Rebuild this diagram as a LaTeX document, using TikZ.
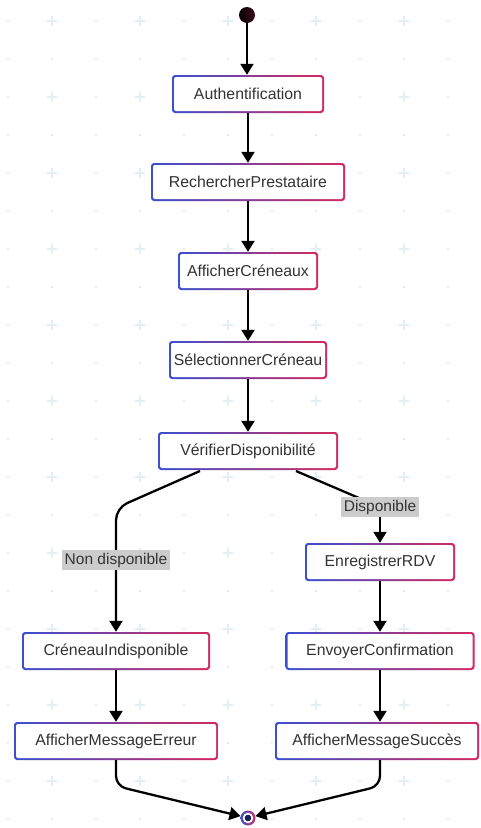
\documentclass[tikz,border=0pt]{standalone}
\usepackage{fontspec}
\setmainfont{Liberation Sans}
\usetikzlibrary{arrows.meta,calc}
\definecolor{txt}{HTML}{333333}
\definecolor{bblue}{HTML}{3B4FD0}
\definecolor{bpink}{HTML}{D42A5E}
\definecolor{lblgray}{HTML}{CCCCCC}
\definecolor{gridplus}{HTML}{E2F0F1}
\definecolor{griddot}{HTML}{E6E6E6}
\tikzset{
  actbox/.style={rounded corners=3pt, left color=bblue, right color=bpink,
    minimum height=38pt, inner sep=0pt, text=txt,
    font=\fontsize{15.8}{18}\selectfont,
    path picture={\fill[white, rounded corners=2pt]
      ([shift={(2pt,2pt)}]path picture bounding box.south west) rectangle
      ([shift={(-2pt,-2pt)}]path picture bounding box.north east);}},
  flow/.style={line width=2.3pt, black, -{Triangle[length=11pt,width=13pt]}},
  flowline/.style={line width=2.3pt, black},
  guard/.style={fill=lblgray, text=txt, inner sep=2.5pt, font=\fontsize{15.5}{17}\selectfont}
}
\begin{document}
\begin{tikzpicture}[x=1pt,y=-1pt]
\useasboundingbox (0,0) rectangle (480,828);
\fill[white] (0,0) rectangle (480,828);
% faint background grid
\foreach \i in {0,...,10}{
  \foreach \j in {0,...,21}{
    \pgfmathsetmacro{\xx}{8+44*\i}
    \pgfmathsetmacro{\yy}{21+38*\j}
    \pgfmathtruncatemacro{\pl}{(mod(\i,2)==1)&&(mod(\j,2)==0)}
    \ifnum\pl=1
      \draw[gridplus, line width=1.2pt] (\xx-5,\yy) -- (\xx+5,\yy) (\xx,\yy-5) -- (\xx,\yy+5);
    \else
      \fill[griddot] (\xx,\yy) circle (1.2);
    \fi
  }
}
% nodes
\node[circle, minimum size=16pt, inner sep=0pt, left color=black, right color=black!70!bpink] (start) at (247,15) {};
\node[actbox, minimum width=152pt] (auth) at (248,94) {Authentification};
\node[actbox, minimum width=194pt] (rech) at (248,182) {RechercherPrestataire};
\node[actbox, minimum width=140pt] (aff) at (248,271) {AfficherCréneaux};
\node[actbox, minimum width=158pt] (sel) at (248,360) {SélectionnerCréneau};
\node[actbox, minimum width=180pt] (ver) at (248,451) {VérifierDisponibilité};
\node[actbox, minimum width=150pt] (enr) at (380,562) {EnregistrerRDV};
\node[actbox, minimum width=188pt] (cre) at (116,651) {CréneauIndisponible};
\node[actbox, minimum width=189pt] (env) at (380,651) {EnvoyerConfirmation};
\node[actbox, minimum width=204pt] (afe) at (116,741) {AfficherMessageErreur};
\node[actbox, minimum width=204pt] (afs) at (377,741) {AfficherMessageSuccès};
\node[circle, minimum size=15pt, inner sep=0pt, left color=bblue, right color=bpink,
  path picture={\fill[white] (path picture bounding box.center) circle (5.3pt);
                \fill[black!60!bblue] (path picture bounding box.center) circle (3.3pt);}] (end) at (248,818) {};
% coordinates for bends
\coordinate (vl) at (200,471);
\coordinate (lb) at (116,508);
\coordinate (vr) at (296,471);
\coordinate (rb) at (380,507);
\coordinate (el) at (116,786);
\coordinate (er) at (380,786);
% edges
\draw[flow] (start) -- (start |- auth.north);
\draw[flow] (auth) -- (rech);
\draw[flow] (rech) -- (aff);
\draw[flow] (aff) -- (sel);
\draw[flow] (sel) -- (ver);
\draw[flow, rounded corners=12pt] (vl) -- (lb) -- (cre.north);
\draw[flowline] (vr) -- (rb);
\draw[flow] (rb) -- (enr.north);
\node[guard] (lnon) at (116,560) {Non disponible};
\node[guard] (ldis) at (380,507) {Disponible};
\draw[flow] (enr) -- (env);
\draw[flow] (cre) -- (afe);
\draw[flow] (env) -- (afs.north -| env.south);
\draw[flow, rounded corners=10pt] (afe.south) -- (el) -- (end);
\draw[flow, rounded corners=10pt] (afs.south -| env.south) -- (er) -- (end);
\end{tikzpicture}
\end{document}
